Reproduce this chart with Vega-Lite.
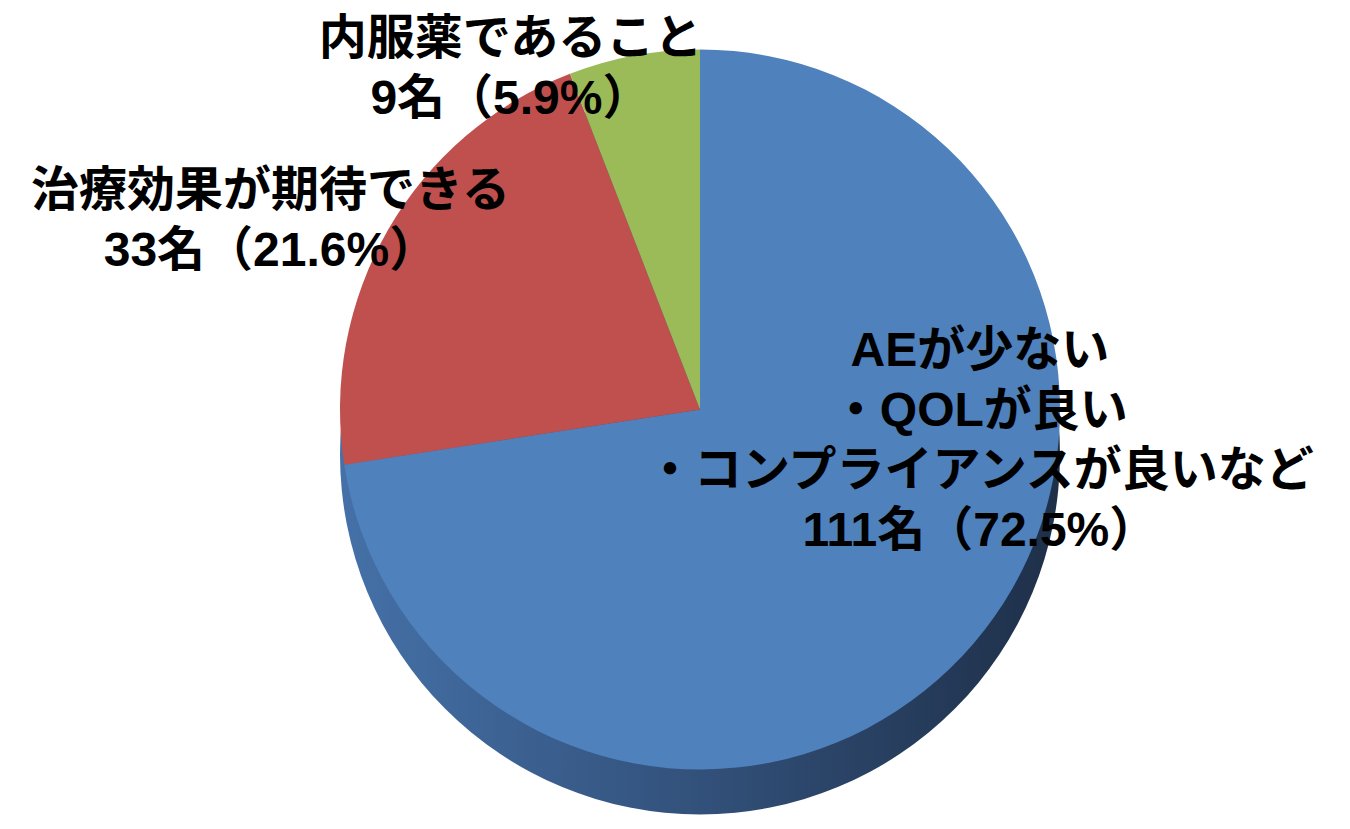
{
  "$schema": "https://vega.github.io/schema/vega-lite/v6.json",
  "width": 1300,
  "height": 799,
  "autosize": {"type": "none"},
  "padding": {"left": 50, "right": 0, "top": 10, "bottom": 20},
  "background": "white",
  "config": {"view": {"stroke": null}},
  "data": {
    "values": [
      {"cat": "AE", "n": 111, "ord": 1, "label": "AEが少ない\n・QOLが良い\n・コンプライアンスが良いなど\n111名（72.5%）"},
      {"cat": "効果", "n": 33, "ord": 2, "label": "治療効果が期待できる\n33名（21.6%）"},
      {"cat": "内服", "n": 9, "ord": 3, "label": "内服薬であること\n9名（5.9%）"}
    ]
  },
  "layer": [
    {
      "transform": [{"aggregate": [{"op": "sum", "field": "n", "as": "total"}]}],
      "mark": {
        "type": "arc",
        "radius": 360,
        "yOffset": 45,
        "stroke": null,
        "color": {
          "gradient": "linear", "x1": 0, "y1": 0, "x2": 1, "y2": 0,
          "stops": [
            {"offset": 0, "color": "#4571A8"},
            {"offset": 0.45, "color": "#34547F"},
            {"offset": 1, "color": "#1E2F48"}
          ]
        }
      },
      "encoding": {"theta": {"field": "total", "type": "quantitative"}}
    },
    {
      "mark": {"type": "arc", "radius": 360, "stroke": null},
      "encoding": {
        "theta": {"field": "n", "type": "quantitative", "stack": true},
        "order": {"field": "ord", "type": "quantitative"},
        "color": {
          "field": "cat", "type": "nominal",
          "scale": {"domain": ["AE", "効果", "内服"], "range": ["#4F81BD", "#C0504D", "#9BBB59"]},
          "legend": null
        }
      }
    },
    {
      "mark": {"type": "text", "radius": 250, "dx": 90, "dy": -220, "fontSize": 48, "fontWeight": "bold", "font": "Liberation Sans, Noto Sans CJK JP, sans-serif", "lineBreak": "\n", "lineHeight": 60, "align": "center", "baseline": "middle", "color": "black"},
      "encoding": {
        "theta": {"field": "n", "type": "quantitative", "stack": true},
        "order": {"field": "ord", "type": "quantitative"},
        "text": {"condition": {"test": "datum.cat === 'AE'", "field": "label"}, "value": ""}
      }
    },
    {
      "mark": {"type": "text", "radius": 496, "dx": 0, "dy": 30, "fontSize": 48, "fontWeight": "bold", "font": "Liberation Sans, Noto Sans CJK JP, sans-serif", "lineBreak": "\n", "lineHeight": 60, "align": "center", "baseline": "middle", "color": "black"},
      "encoding": {
        "theta": {"field": "n", "type": "quantitative", "stack": true},
        "order": {"field": "ord", "type": "quantitative"},
        "text": {"condition": {"test": "datum.cat === '効果'", "field": "label"}, "value": ""}
      }
    },
    {
      "mark": {"type": "text", "radius": 335, "dx": -128, "dy": -40, "fontSize": 48, "fontWeight": "bold", "font": "Liberation Sans, Noto Sans CJK JP, sans-serif", "lineBreak": "\n", "lineHeight": 60, "align": "center", "baseline": "middle", "color": "black"},
      "encoding": {
        "theta": {"field": "n", "type": "quantitative", "stack": true},
        "order": {"field": "ord", "type": "quantitative"},
        "text": {"condition": {"test": "datum.cat === '内服'", "field": "label"}, "value": ""}
      }
    }
  ]
}
